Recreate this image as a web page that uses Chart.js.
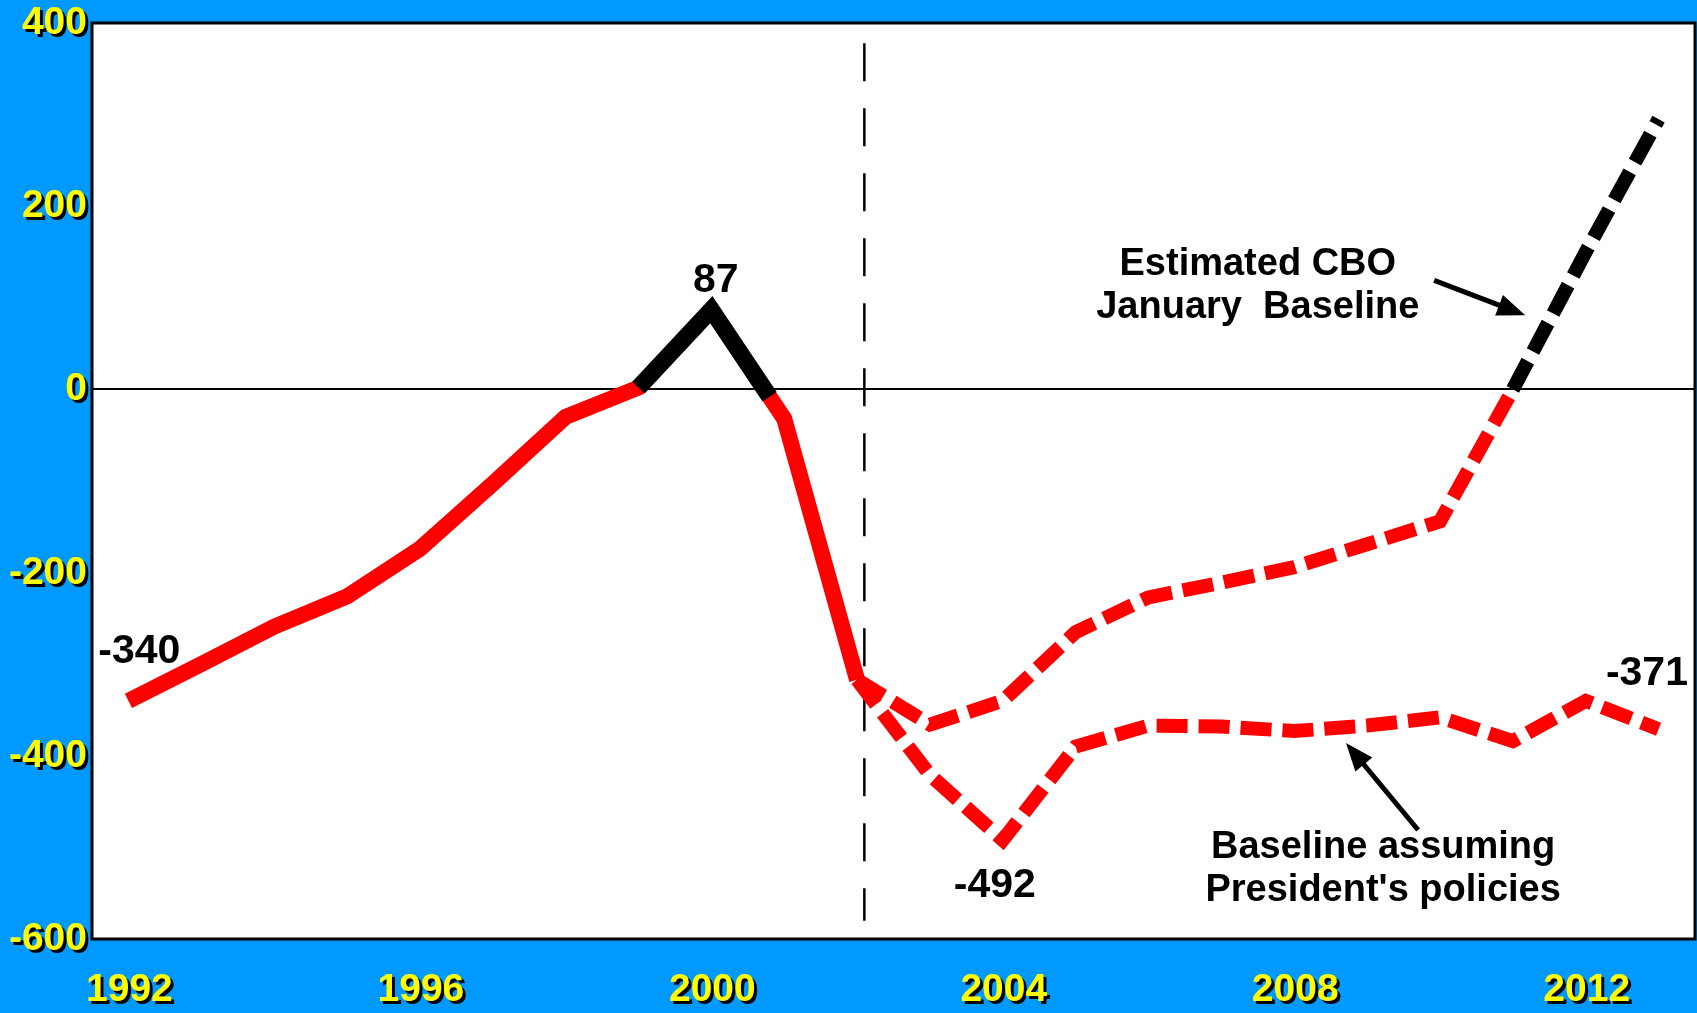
<!DOCTYPE html>
<html>
<head>
<meta charset="utf-8">
<title>Deficit projections</title>
<script src="https://cdn.jsdelivr.net/npm/chart.js@4.4.1/dist/chart.umd.min.js"></script>
<style>
  html, body { margin: 0; padding: 0; background: #0099ff; overflow: hidden; }
</style>
</head>
<body>
<canvas id="deficitChart" width="1697" height="1013"></canvas>
<script>
// Values (billions of dollars, on-budget)
const actualYears = [1992, 1993, 1994, 1995, 1996, 1997, 1998, 1999, 2000, 2001, 2002];
const actualDeficit = [-340, -300, -259, -226, -174, -103, -30, 2, 87, -32, -317];

// black piece over the surplus years
const surplusYears = [1999, 2000, 2000.8];
const surplusValues = [2, 87, -8];

const cboYears = [2002, 2003, 2004, 2005, 2006, 2007, 2008, 2009, 2010, 2011];
const cboBaseline = [-317, -366, -340, -265, -227, -211, -194, -169, -144, 0];
const cboTailYears = [2011, 2012, 2013];
const cboTail = [0, 150, 295];

const presidentYears = [2002, 2003, 2004, 2005, 2006, 2007, 2008, 2009, 2010, 2011, 2012, 2013];
const presidentBaseline = [-317, -421, -492, -390, -367, -368, -373, -367, -358, -384, -340, -371];

const splitYear = 2002.1;
const splitRange = [378, -580];

const xTickYears = [1992, 1996, 2000, 2004, 2008, 2012];
const yTicks = [-600, -400, -200, 0, 200, 400];

// text placed in data units (x = year, y = value at text baseline)
const valueLabels = [
    { text: '87', x: 2000.06, y: 106 },
    { text: '-340', x: 1992.15, y: -299 },
    { text: '-492', x: 2003.89, y: -554 },
    { text: '-371', x: 2012.84, y: -323 }
];
const notes = [
    { lines: ['Estimated CBO', 'January  Baseline'], x: 2007.5, y: [125, 78] },
    { lines: ['Baseline assuming', "President's policies"], x: 2009.22, y: [-511.6, -558.5] }
];
const arrows = [
    { from: [2009.92, 119], to: [2011.17, 81] },
    { from: [2009.70, -481], to: [2008.71, -386] }
];

const FONT = '"Liberation Sans", Arial, sans-serif';
const BLUE = '#0099ff';
const RED = '#ff0000';

function toPoints(xs, ys) {
    return xs.map((x, i) => ({ x: x, y: ys[i] }));
}

function drawArrow(ctx, x1, y1, x2, y2) {
    const ang = Math.atan2(y2 - y1, x2 - x1);
    const head = 28, half = 11;
    const bx = x2 - head * Math.cos(ang);
    const by = y2 - head * Math.sin(ang);
    ctx.lineWidth = 5;
    ctx.beginPath();
    ctx.moveTo(x1, y1);
    ctx.lineTo(bx + 2 * Math.cos(ang), by + 2 * Math.sin(ang));
    ctx.stroke();
    ctx.beginPath();
    ctx.moveTo(x2, y2);
    ctx.lineTo(bx + half * Math.sin(ang), by - half * Math.cos(ang));
    ctx.lineTo(bx - half * Math.sin(ang), by + half * Math.cos(ang));
    ctx.closePath();
    ctx.fill();
}

function shadowText(ctx, text, x, y) {
    ctx.fillStyle = '#000';
    ctx.fillText(text, x + 3, y + 3);
    ctx.fillStyle = '#ffff00';
    ctx.fillText(text, x, y);
}

const slidePlugin = {
    id: 'slide',
    beforeDraw(chart) {
        const { ctx, chartArea: a } = chart;
        ctx.save();
        ctx.fillStyle = BLUE;
        ctx.fillRect(0, 0, chart.width, chart.height);
        ctx.fillStyle = '#fff';
        ctx.fillRect(a.left, a.top, a.right - a.left, a.bottom - a.top);
        ctx.restore();
    },
    afterDraw(chart) {
        const { ctx, chartArea: a } = chart;
        const xs = chart.scales.x, ys = chart.scales.y;
        ctx.save();

        // plot frame
        ctx.strokeStyle = '#000';
        ctx.lineWidth = 3;
        ctx.strokeRect(a.left, a.top, a.right - a.left, a.bottom - a.top);

        // tick labels, yellow with drop shadow
        ctx.font = 'bold 39px ' + FONT;
        ctx.textBaseline = 'alphabetic';
        ctx.textAlign = 'right';
        ys.ticks.forEach(t => {
            shadowText(ctx, String(t.value), 87, ys.getPixelForValue(t.value) + 11);
        });
        ctx.textAlign = 'center';
        xs.ticks.forEach(t => {
            shadowText(ctx, String(t.value), xs.getPixelForValue(t.value) + 1, 1001);
        });

        // value labels
        ctx.fillStyle = '#000';
        ctx.font = 'bold 41px ' + FONT;
        valueLabels.forEach(l => {
            ctx.fillText(l.text, xs.getPixelForValue(l.x), ys.getPixelForValue(l.y));
        });

        // notes and arrows
        ctx.font = 'bold 38px ' + FONT;
        notes.forEach(n => {
            n.lines.forEach((line, i) => {
                ctx.fillText(line, xs.getPixelForValue(n.x), ys.getPixelForValue(n.y[i]));
            });
        });
        ctx.strokeStyle = '#000';
        arrows.forEach(ar => {
            drawArrow(ctx,
                xs.getPixelForValue(ar.from[0]), ys.getPixelForValue(ar.from[1]),
                xs.getPixelForValue(ar.to[0]), ys.getPixelForValue(ar.to[1]));
        });
        ctx.restore();
    }
};

const chart = new Chart(document.getElementById('deficitChart'), {
    type: 'line',
    data: {
        datasets: [
            {
                label: 'Surplus',
                data: toPoints(surplusYears, surplusValues),
                borderColor: '#000',
                borderWidth: 17,
                order: 0
            },
            {
                label: 'Actual',
                data: toPoints(actualYears, actualDeficit),
                borderColor: RED,
                borderWidth: 16,
                order: 1
            },
            {
                label: 'CBO baseline (surplus)',
                data: toPoints(cboTailYears, cboTail),
                borderColor: '#000',
                borderWidth: 14,
                borderDash: [32, 11],
                order: 2
            },
            {
                label: 'Estimated CBO January Baseline',
                data: toPoints(cboYears, cboBaseline),
                borderColor: RED,
                borderWidth: 14,
                borderDash: [31, 11],
                order: 3
            },
            {
                label: "Baseline assuming President's policies",
                data: toPoints(presidentYears, presidentBaseline),
                borderColor: RED,
                borderWidth: 14,
                borderDash: [31, 11],
                order: 4
            },
            {
                label: 'Split',
                data: toPoints([splitYear, splitYear], splitRange),
                borderColor: '#000',
                borderWidth: 2.5,
                borderDash: [38, 27],
                order: 5
            }
        ]
    },
    options: {
        responsive: false,
        devicePixelRatio: 1,
        animation: false,
        layout: { padding: { top: 23, right: 2, left: 0, bottom: 0 } },
        elements: {
            point: { radius: 0, hoverRadius: 0 },
            line: { tension: 0, fill: false, borderJoinStyle: 'miter', borderCapStyle: 'butt' }
        },
        plugins: {
            legend: { display: false },
            tooltip: { enabled: false }
        },
        scales: {
            x: {
                type: 'linear',
                min: 1991.5,
                max: 2013.5,
                afterBuildTicks: s => { s.ticks = xTickYears.map(v => ({ value: v })); },
                afterFit: s => { s.height = 74; },
                ticks: { display: false },
                grid: { display: false },
                border: { display: false }
            },
            y: {
                type: 'linear',
                min: -600,
                max: 400,
                afterBuildTicks: s => { s.ticks = yTicks.map(v => ({ value: v })); },
                afterFit: s => { s.width = 92; },
                ticks: { display: false },
                grid: {
                    color: c => (c.tick && c.tick.value === 0 ? '#000' : 'rgba(0,0,0,0)'),
                    lineWidth: 2,
                    drawTicks: false
                },
                border: { display: false }
            }
        }
    },
    plugins: [slidePlugin]
});
</script>
</body>
</html>
